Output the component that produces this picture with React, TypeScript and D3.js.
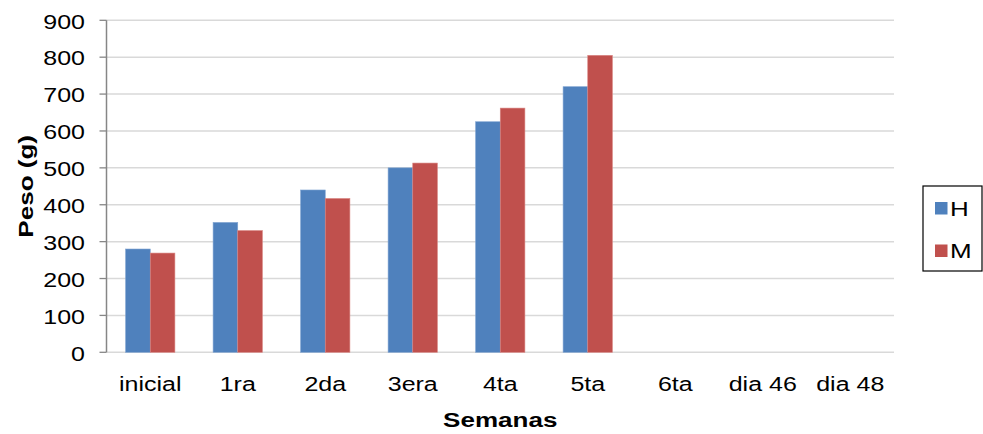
import React from "react";
import * as d3 from "d3";

const categories = ["inicial", "1ra", "2da", "3era", "4ta", "5ta", "6ta", "dia 46", "dia 48"];
const seriesNames = ["H", "M"];
const valuesH: (number | null)[] = [280, 352, 440, 500, 625, 720, null, null, null];
const valuesM: (number | null)[] = [269, 330, 417, 513, 662, 805, null, null, null];
const yTicks = [0, 100, 200, 300, 400, 500, 600, 700, 800, 900];
const colors = ["#4f81bd", "#c0504d"];

const W = 983;
const H = 434;
const left = 106.5;
const right = 894;
const top = 20.3;
const bottom = 352.3;
const font = "Arial, 'Liberation Sans', sans-serif";
const SX = 1.25;

export default function App() {
  const x = d3.scaleBand<string>().domain(categories).range([left, right]).paddingInner(0.4366).paddingOuter(0.2183);
  const xs = d3.scaleBand<string>().domain(seriesNames).range([0, x.bandwidth()]);
  const y = d3.scaleLinear().domain([0, 900]).range([bottom, top]);
  const series = [valuesH, valuesM];

  return (
    <svg width={W} height={H} style={{ position: "absolute", left: 0, top: 0, background: "#fff" }} fontFamily={font}>
      {yTicks.map((t) => (
        <g key={t}>
          <line x1={left} x2={right} y1={y(t)} y2={y(t)} stroke="#d9d9d9" strokeWidth={1.5} />
          <line x1={left - 7} x2={left} y1={y(t)} y2={y(t)} stroke="#868686" strokeWidth={1.3} />
          <text transform={`translate(85, ${y(t) + 8.2}) scale(${SX},1)`} textAnchor="end" fontSize={20} fill="#000">
            {t}
          </text>
        </g>
      ))}
      {series.map((vals, si) =>
        vals.map((v, i) =>
          v == null ? null : (
            <rect
              key={`${si}-${i}`}
              x={(x(categories[i]) as number) + (xs(seriesNames[si]) as number)}
              y={y(v)}
              width={xs.bandwidth()}
              height={bottom - y(v)}
              fill={colors[si]}
              stroke={si === 0 ? "#7fa3d1" : "#d98582"}
              strokeWidth={0.6}
            />
          )
        )
      )}
      <line x1={left} x2={left} y1={top} y2={bottom} stroke="#868686" strokeWidth={1.5} />
      {categories.map((c) => (
        <text
          key={c}
          transform={`translate(${(x(c) as number) + x.bandwidth() / 2}, 391) scale(${SX},1)`}
          textAnchor="middle"
          fontSize={20}
          fill="#000"
        >
          {c}
        </text>
      ))}
      <text
        transform={`translate(${(left + right) / 2}, 426.7) scale(1.24,1)`}
        textAnchor="middle"
        fontSize={21}
        fontWeight="bold"
        fill="#000"
      >
        Semanas
      </text>
      <text
        transform={`translate(32.5, ${(top + bottom) / 2}) rotate(-90) scale(1.27,1)`}
        textAnchor="middle"
        fontSize={20.5}
        fontWeight="bold"
        fill="#000"
      >
        Peso (g)
      </text>
      <rect x={923} y={186} width={59} height={85} fill="#fff" stroke="#000" strokeWidth={1.2} />
      {seriesNames.map((s, i) => (
        <g key={s}>
          <rect x={935} y={202 + i * 42.5} width={12.5} height={12.5} fill={colors[i]} />
          <text transform={`translate(950, ${215.7 + i * 42.5}) scale(1.3,1)`} fontSize={20} fill="#000">
            {s}
          </text>
        </g>
      ))}
    </svg>
  );
}
